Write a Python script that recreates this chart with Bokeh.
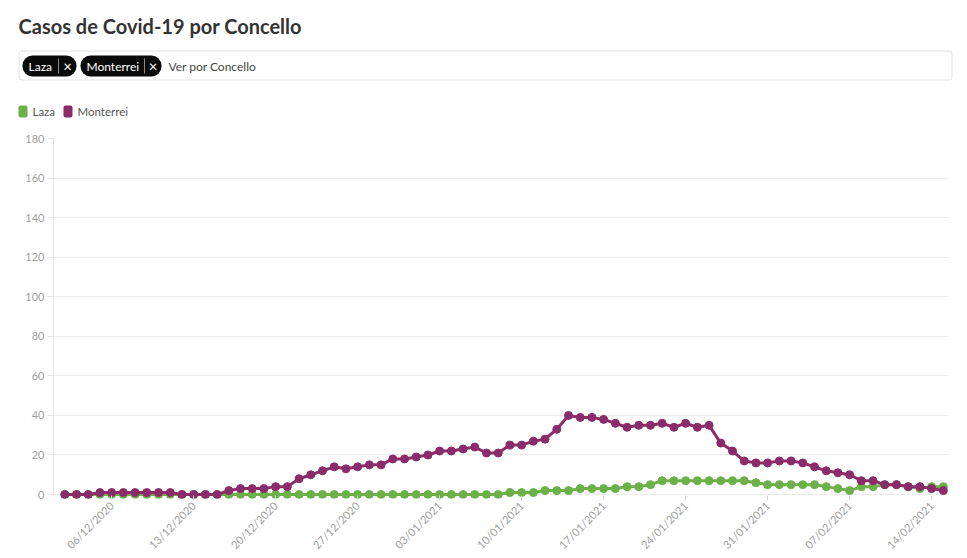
from bokeh.plotting import figure
from bokeh.models import Range1d, FixedTicker, DatetimeTickFormatter, ColumnDataSource
from bokeh.core.properties import value
from bokeh.embed import file_html
from bokeh.resources import INLINE
import pandas as pd
import math

# ---------------- data ----------------
title_text = "Casos de Covid-19 por Concello"
series_names = ["Laza", "Monterrei"]
series_colors = ["#6cb049", "#8b2c6a"]

dates = [
    "2020-12-02", "2020-12-03", "2020-12-04", "2020-12-05", "2020-12-06", "2020-12-07", "2020-12-08",
    "2020-12-09", "2020-12-10", "2020-12-11", "2020-12-12", "2020-12-13", "2020-12-14", "2020-12-15",
    "2020-12-16", "2020-12-17", "2020-12-18", "2020-12-19", "2020-12-20", "2020-12-21", "2020-12-22",
    "2020-12-23", "2020-12-24", "2020-12-25", "2020-12-26", "2020-12-27", "2020-12-28", "2020-12-29",
    "2020-12-30", "2020-12-31", "2021-01-01", "2021-01-02", "2021-01-03", "2021-01-04", "2021-01-05",
    "2021-01-06", "2021-01-07", "2021-01-08", "2021-01-09", "2021-01-10", "2021-01-11", "2021-01-12",
    "2021-01-13", "2021-01-14", "2021-01-15", "2021-01-16", "2021-01-17", "2021-01-18", "2021-01-19",
    "2021-01-20", "2021-01-21", "2021-01-22", "2021-01-23", "2021-01-24", "2021-01-25", "2021-01-26",
    "2021-01-27", "2021-01-28", "2021-01-29", "2021-01-30", "2021-01-31", "2021-02-01", "2021-02-02",
    "2021-02-03", "2021-02-04", "2021-02-05", "2021-02-06", "2021-02-07", "2021-02-08", "2021-02-09",
    "2021-02-10", "2021-02-11", "2021-02-12", "2021-02-13", "2021-02-14", "2021-02-15",
]

laza = [
    0, 0, 0, 0, 0, 0, 0, 0, 0, 0, 0, 0, 0, 0, 0, 0, 0, 0, 0, 0, 0, 0, 0, 0, 0, 0, 0, 0, 0, 0,
    0, 0, 0, 0, 0, 0, 0, 0, 1, 1, 1, 2, 2, 2, 3, 3, 3, 3, 4, 4, 5, 7, 7, 7, 7, 7, 7, 7, 7, 6, 5,
    5, 5, 5, 5, 4, 3, 2, 4, 4, 5, 5, 4, 3, 4, 4,
]

monterrei = [
    0, 0, 0, 1, 1, 1, 1, 1, 1, 1, 0, 0, 0, 0, 2, 3, 3, 3, 4, 4, 8, 10, 12, 14, 13, 14, 15, 15, 18, 18,
    19, 20, 22, 22, 23, 24, 21, 21, 25, 25, 27, 28, 33, 40, 39, 39, 38, 36, 34, 35, 35, 36, 34, 36,
    34, 35, 26, 22, 17, 16, 16,
    17, 17, 16, 14, 12, 11, 10, 7, 7, 5, 5, 4, 4, 3, 2,
]

x_tick_dates = ["2020-12-06", "2020-12-13", "2020-12-20", "2020-12-27", "2021-01-03", "2021-01-10",
                "2021-01-17", "2021-01-24", "2021-01-31", "2021-02-07", "2021-02-14"]
y_ticks = [0, 20, 40, 60, 80, 100, 120, 140, 160, 180]

filter_placeholder = "Ver por Concello"

# ---------------- header (title, filter box, legend) ----------------
FONT = "Lato"
W = 967
HEAD_H = 125

h = figure(width=W, height=HEAD_H, output_backend="svg", toolbar_location=None,
           x_range=Range1d(0, W), y_range=Range1d(HEAD_H, 0),
           x_axis_location=None, y_axis_location=None, min_border=0)
h.outline_line_color = None
h.grid.visible = False

h.text(x=[18], y=[25], text=[title_text], text_font=value(FONT), text_font_style="bold",
       text_font_size="20px", text_color="#333333", text_baseline="middle", text_align="left")

# filter box
h.quad(left=[18.5], right=[951.5], top=[50.5], bottom=[79.5], fill_color="white",
       line_color="#e3e3e3", line_width=1, border_radius=3)

chips = [(22, 76, 58, 67), (80, 161, 144, 152.5)]
for name, (l, r, sep, xx) in zip(series_names, chips):
    h.quad(left=[l], right=[r], top=[55], bottom=[76], fill_color="#0a0a0a", line_color=None,
           border_radius=10)
    h.text(x=[l + 6], y=[65.5], text=[name], text_font=value(FONT), text_font_size="12px",
           text_color="white", text_baseline="middle", text_align="left")
    h.segment(x0=[sep], y0=[58], x1=[sep], y1=[73], line_color="#8a8a8a", line_width=1)
    h.text(x=[xx], y=[65.5], text=["\u00d7"], text_font=value(FONT), text_font_size="15px",
           text_color="white", text_baseline="middle", text_align="center")

h.text(x=[168], y=[65.5], text=[filter_placeholder], text_font=value(FONT), text_font_size="12px",
       text_color="#444444", text_baseline="middle", text_align="left")

# legend
legend_pos = [(18, 32), (63, 77)]
for name, col, (sx, tx) in zip(series_names, series_colors, legend_pos):
    h.quad(left=[sx], right=[sx + 9], top=[105], bottom=[117], fill_color=col, line_color=None,
           border_radius=2)
    h.text(x=[tx], y=[111], text=[name], text_font=value(FONT), text_font_size="11.5px",
           text_color="#555555", text_baseline="middle", text_align="left")

# ---------------- main chart ----------------
x = pd.to_datetime(dates)
src = ColumnDataSource(data=dict(x=x, laza=laza, monterrei=monterrei))

day = pd.Timedelta(days=1)
x_start = x[0] - 0.965 * day
x_end = x[-1] + 0.44 * day

p = figure(width=W, height=558 - HEAD_H, x_axis_type="datetime", output_backend="svg",
           toolbar_location=None,
           x_range=Range1d(x_start, x_end), y_range=Range1d(-2.0, 180),
           min_border_left=53, min_border_right=19, min_border_top=13, min_border_bottom=60)
p.outline_line_color = None
p.xgrid.visible = False
p.ygrid.grid_line_color = "#ececec"
p.ygrid.grid_line_width = 1

for key, col in zip(["laza", "monterrei"], series_colors):
    p.line("x", key, source=src, line_color=col, line_width=3)
    p.scatter("x", key, source=src, size=8, fill_color=col, line_color=col)

# y axis
p.yaxis.ticker = FixedTicker(ticks=y_ticks)
p.yaxis.bounds = (0, 180)
p.yaxis.axis_line_color = "#e6e6e6"
p.yaxis.major_tick_line_color = "#e6e6e6"
p.yaxis.major_tick_out = 6
p.yaxis.major_tick_in = 0
p.yaxis.minor_tick_line_color = None
p.yaxis.major_label_standoff = 3
p.yaxis.major_label_text_font = FONT
p.yaxis.major_label_text_font_size = "11px"
p.yaxis.major_label_text_color = "#a0a0a0"

# x axis
tick_ms = [pd.Timestamp(d).value / 1e6 for d in x_tick_dates]
p.xaxis.ticker = FixedTicker(ticks=tick_ms)
fmt = "%d/%m/%Y"
p.xaxis.formatter = DatetimeTickFormatter(days=fmt, months=fmt, years=fmt, hours=fmt,
                                          hourmin=fmt, minutes=fmt, minsec=fmt, seconds=fmt,
                                          milliseconds=fmt, microseconds=fmt)
p.xaxis.axis_line_color = None
p.xaxis.major_tick_line_color = "#d9d9d9"
p.xaxis.major_tick_in = 3
p.xaxis.major_tick_out = 2
p.xaxis.minor_tick_line_color = None
p.xaxis.major_label_orientation = math.pi / 4
p.xaxis.major_label_standoff = 3
p.xaxis.major_label_text_font = FONT
p.xaxis.major_label_text_font_size = "11px"
p.xaxis.major_label_text_color = "#a0a0a0"

# two independent roots stacked vertically (no frame alignment between them)
open("out.html", "w").write(file_html([h, p], INLINE))
